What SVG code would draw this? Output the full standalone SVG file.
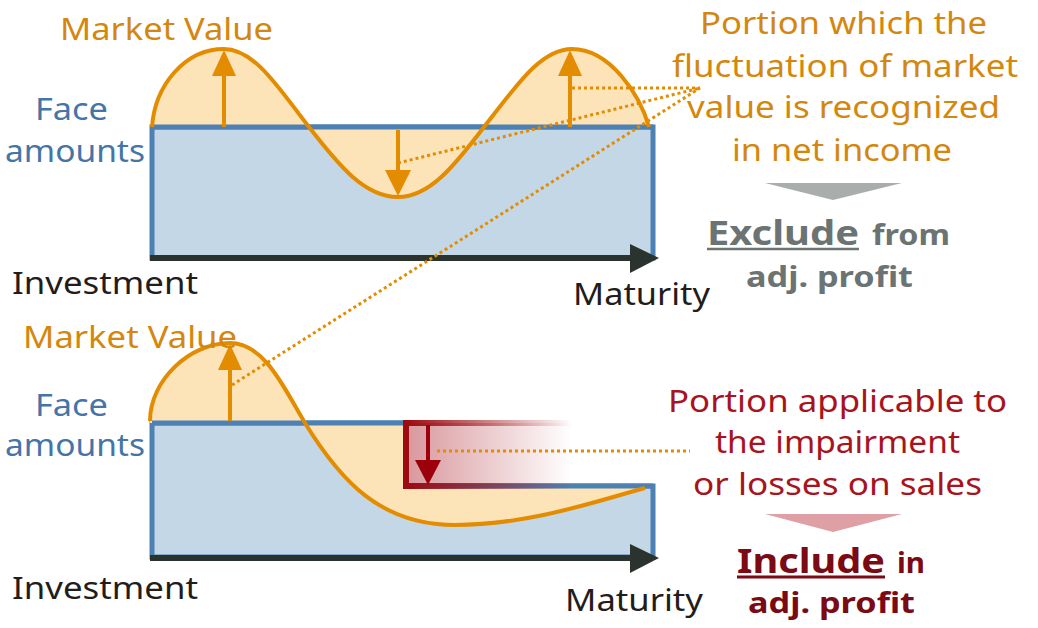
<svg xmlns="http://www.w3.org/2000/svg" width="1038" height="628" viewBox="0 0 1038 628">
<style>
text{font-family:"Noto Sans","Open Sans",sans-serif;}
.or{fill:#d4870e;font-size:30px;}
.bl{fill:#4575a6;font-size:30px;}
.dk{fill:#231c1a;font-size:30px;}
.rd{fill:#a8141e;font-size:30px;}
.gy{fill:#6b7373;font-weight:bold;}
.dr{fill:#7a0a14;font-weight:bold;}
.face{fill:#c4d7e6;stroke:#4d80b3;stroke-width:5;stroke-linejoin:miter;}
.mv{fill:#fde3b8;stroke:none;}
.mvs{fill:none;stroke:#e38c00;stroke-width:4;stroke-linejoin:round;}
.ax{stroke:#2b332f;stroke-width:6;}
.axh{fill:#2b332f;}
.oa{stroke:#e38c00;stroke-width:4;}
.oah{fill:#e38c00;}
.dot{fill:none;stroke:#e38c00;stroke-width:3;stroke-dasharray:3 3;}
</style>
<defs>
<linearGradient id="redfill" gradientUnits="userSpaceOnUse" x1="406" y1="0" x2="572" y2="0">
<stop offset="0" stop-color="#b8434c" stop-opacity="0.55"/>
<stop offset="1" stop-color="#b8434c" stop-opacity="0"/>
</linearGradient>
<linearGradient id="redline" gradientUnits="userSpaceOnUse" x1="406" y1="0" x2="572" y2="0">
<stop offset="0" stop-color="#9c0a12" stop-opacity="1"/>
<stop offset="1" stop-color="#9c0a12" stop-opacity="0"/>
</linearGradient>
</defs>

<g id="top-panel">
<rect class="face" x="152" y="127" width="501" height="131"/>
<path class="mv" d="M152,127 C155,85 185,49 224,49 C255,49 280,90 309,127 C340,167 365,197 398,197 C430,197 455,165 484,127 C515,88 540,49 572,49 C610,49 640,95 649,127 Z"/>
<path d="M152,127 H653" stroke="#4d80b3" stroke-width="5"/>
<path class="mvs" d="M152,127 C155,85 185,49 224,49 C255,49 280,90 309,127 C340,167 365,197 398,197 C430,197 455,165 484,127 C515,88 540,49 572,49 C610,49 640,95 649,127"/>
<line class="ax" x1="150" y1="258" x2="636" y2="258"/>
<polygon class="axh" points="630,244 659,258 630,273"/>
</g>

<g id="top-arrows">
<line class="oa" x1="224" y1="127" x2="224" y2="74"/>
<polygon class="oah" points="212,76 236,76 224,50"/>
<line class="oa" x1="398" y1="130" x2="398" y2="172"/>
<polygon class="oah" points="385,170 411,170 398,196"/>
<line class="oa" x1="570" y1="127" x2="570" y2="74"/>
<polygon class="oah" points="558,76 582,76 570,50"/>
</g>

<g id="bottom-panel">
<path class="face" d="M152,423 H406 V486 H653 V557 H152 Z"/>
<path class="mv" d="M150,421 C150,380 190,343 230,343 C265,343 285,390 305,423 C340,480 380,525 455,525 C530,525 600,500 645,488 L645,486 L406,486 L406,423 L150,423 Z"/>
<path d="M152,423 H406 M406,486 H653" stroke="#4d80b3" stroke-width="5" fill="none"/>
<path class="mvs" d="M150,421 C150,380 190,343 230,343 C265,343 285,390 305,423 C340,480 380,525 455,525 C530,525 600,500 645,488"/>
<line class="ax" x1="150" y1="558" x2="636" y2="558"/>
<polygon class="axh" points="630,544 659,558 630,573"/>
</g>

<g id="impairment-box">
<rect x="406" y="423" width="166" height="63" fill="url(#redfill)"/>
<path d="M406,423 H574 M406,486 H574" stroke="url(#redline)" stroke-width="6" fill="none"/>
<line x1="406" y1="420" x2="406" y2="489" stroke="#9c0a12" stroke-width="6"/>
<line x1="428" y1="425" x2="428" y2="462" stroke="#9c000a" stroke-width="4"/>
<polygon points="415,460 441,460 428,485" fill="#9c000a"/>
</g>

<g id="bottom-arrows">
<line class="oa" x1="230" y1="421" x2="230" y2="368"/>
<polygon class="oah" points="218,370 242,370 230,344"/>
</g>

<g id="connectors">
<path class="dot" d="M572,88 L700,88"/>
<path class="dot" d="M398,163 L700,88"/>
<path class="dot" d="M232,385 L700,88"/>
<path class="dot" d="M437,451 L690,451"/>
</g>

<g id="labels-left">
<text class="or" x="60" y="40" textLength="213" lengthAdjust="spacingAndGlyphs">Market Value</text>
<text class="bl" x="35" y="120" textLength="73" lengthAdjust="spacingAndGlyphs">Face</text>
<text class="bl" x="5" y="162" textLength="140" lengthAdjust="spacingAndGlyphs">amounts</text>
<text class="dk" x="12" y="294" textLength="186" lengthAdjust="spacingAndGlyphs">Investment</text>
<text class="dk" x="573" y="305" textLength="137" lengthAdjust="spacingAndGlyphs">Maturity</text>
<text class="or" x="23" y="348" textLength="214" lengthAdjust="spacingAndGlyphs">Market Value</text>
<text class="bl" x="35" y="416" textLength="73" lengthAdjust="spacingAndGlyphs">Face</text>
<text class="bl" x="5" y="456" textLength="140" lengthAdjust="spacingAndGlyphs">amounts</text>
<text class="dk" x="12" y="599" textLength="186" lengthAdjust="spacingAndGlyphs">Investment</text>
<text class="dk" x="565" y="611" textLength="138" lengthAdjust="spacingAndGlyphs">Maturity</text>
</g>

<g id="note-fluctuation">
<text class="or" x="700" y="34" textLength="287" lengthAdjust="spacingAndGlyphs">Portion which the</text>
<text class="or" x="672" y="77" textLength="346" lengthAdjust="spacingAndGlyphs">fluctuation of market</text>
<text class="or" x="687" y="118" textLength="313" lengthAdjust="spacingAndGlyphs">value is recognized</text>
<text class="or" x="732" y="161" textLength="220" lengthAdjust="spacingAndGlyphs">in net income</text>
<polygon points="765,183 902,183 833,200" fill="#a9aeac"/>
<text class="gy" x="707" y="245" font-size="34" textLength="152" lengthAdjust="spacingAndGlyphs">Exclude</text>
<line x1="707" y1="249" x2="859" y2="249" stroke="#6b7373" stroke-width="2.5"/>
<text class="gy" x="872" y="245" font-size="28" textLength="78" lengthAdjust="spacingAndGlyphs">from</text>
<text class="gy" x="746" y="287" font-size="28" textLength="167" lengthAdjust="spacingAndGlyphs">adj. profit</text>
</g>

<g id="note-impairment">
<text class="rd" x="668" y="412" textLength="339" lengthAdjust="spacingAndGlyphs">Portion applicable to</text>
<text class="rd" x="715" y="453" textLength="245" lengthAdjust="spacingAndGlyphs">the impairment</text>
<text class="rd" x="693" y="495" textLength="289" lengthAdjust="spacingAndGlyphs">or losses on sales</text>
<polygon points="765,514 902,514 833,532" fill="#dea0a4"/>
<text class="dr" x="737" y="573" font-size="34" textLength="148" lengthAdjust="spacingAndGlyphs">Include</text>
<line x1="737" y1="577" x2="885" y2="577" stroke="#7a0a14" stroke-width="3"/>
<text class="dr" x="897" y="573" font-size="28" textLength="28" lengthAdjust="spacingAndGlyphs">in</text>
<text class="dr" x="748" y="613" font-size="28" textLength="167" lengthAdjust="spacingAndGlyphs">adj. profit</text>
</g>
</svg>
